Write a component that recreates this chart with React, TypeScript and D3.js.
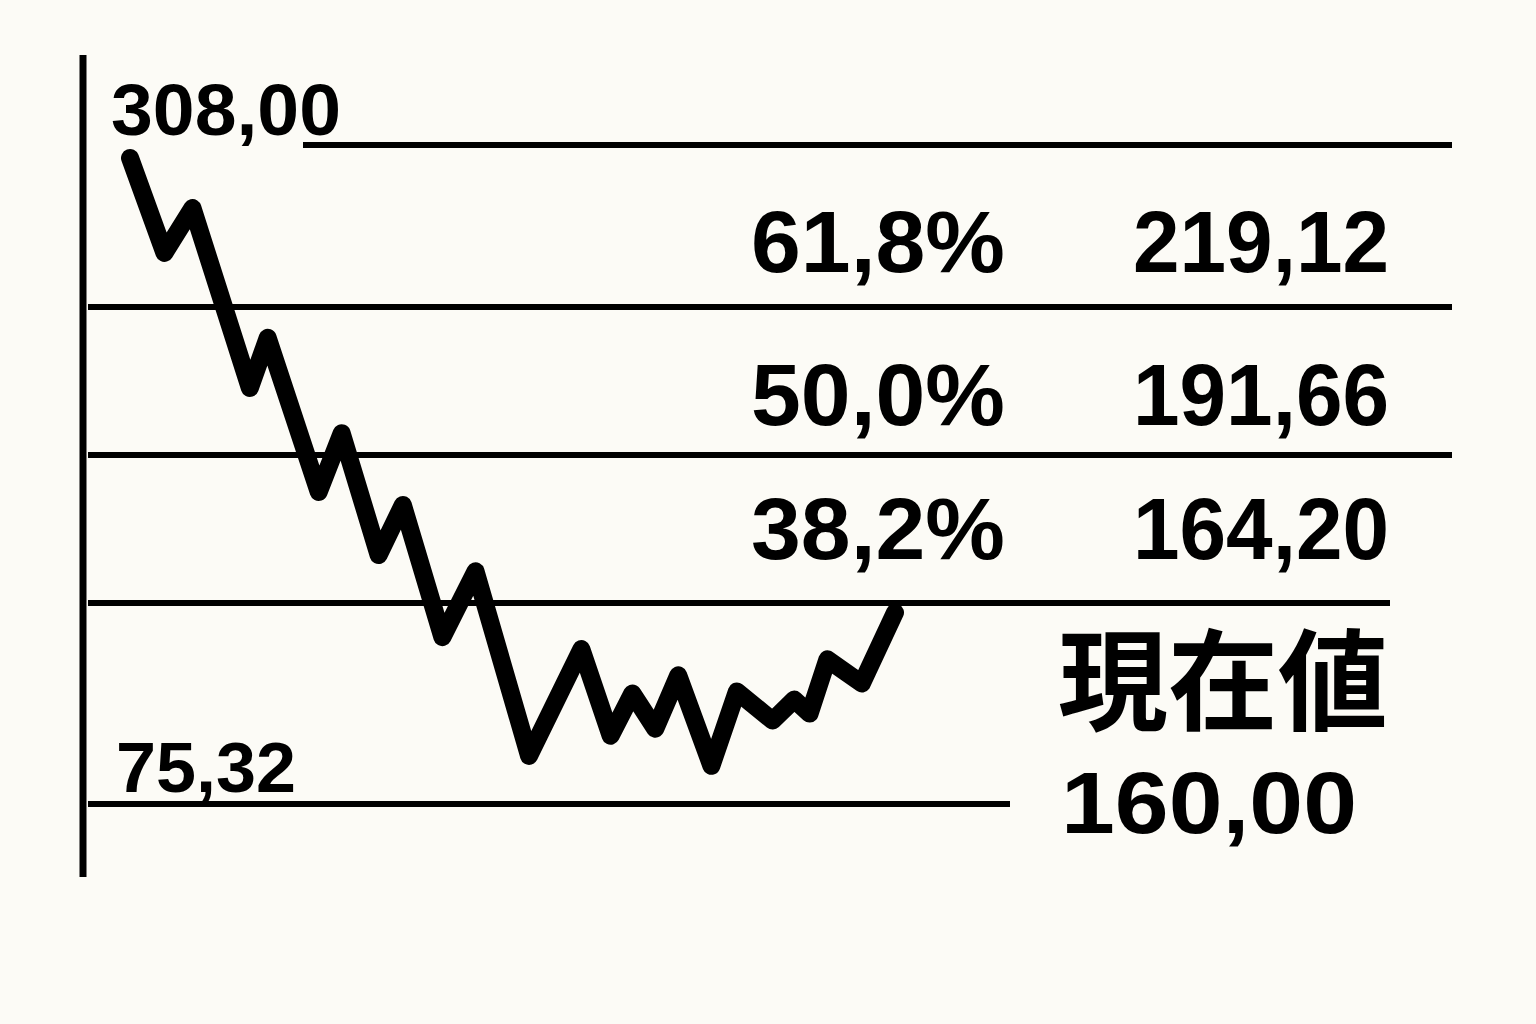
import * as d3 from "d3";
import React from "react";

// price path (x = trading day index, y = price)
const days = [0, 2.7, 4.9, 9.4, 10.8, 14.8, 16.6, 19.5, 21.4, 24.5, 27.1, 31.3, 35.4, 37.7, 39.4, 41.2, 43.0, 45.6, 47.6, 50.4, 52.1, 53.3, 54.7, 57.4, 60];
const prices = [300.9, 248.8, 273.4, 204.1, 213.4, 184.8, 195.7, 173.1, 182.4, 149.1, 170.1, 96.6, 143.8, 105.5, 124.2, 108.6, 132.2, 92.2, 125.1, 112.2, 121.5, 115.3, 139.3, 128.6, 160.0];

// fibonacci retracement levels
const levelValues = [308.0, 219.12, 191.66, 164.2, 75.32];
const levelLabels = ["308,00", "219,12", "191,66", "164,20", "75,32"];
const ratioLabels = ["", "61,8%", "50,0%", "38,2%", ""];

const currentTitle = "現在値";
const currentLabel = "160,00";

const width = 1536;
const height = 1024;

// the drawing is not to price scale: each band has its own height
const levelY = [145, 307, 455, 603, 804];
const lineStart = [303, 88, 88, 88, 88];
const lineEnd = [1452, 1452, 1452, 1390, 1010];
const labelGap = [0, 35, 30, 44, 0];

const numFont = "'Liberation Sans', Arial, Helvetica, sans-serif";
const cjkFont = "'Noto Sans CJK JP', 'Noto Sans CJK SC', sans-serif";

const App = () => {
  const yScale = d3.scaleLinear().domain(levelValues).range(levelY);
  const xScale = d3.scaleLinear().domain([0, 60]).range([130, 895]);

  const line = d3
    .line<number>()
    .x((d, i) => xScale(days[i]))
    .y((d) => yScale(d));

  return (
    <svg
      width={width}
      height={height}
      style={{ position: "absolute", left: 0, top: 0 }}
    >
      <rect width={width} height={height} fill="#fcfbf6" />

      {/* vertical axis */}
      <line x1={83} x2={83} y1={55} y2={877} stroke="#000" strokeWidth={7} />

      {levelValues.map((v, i) => (
        <line
          key={"l" + i}
          x1={lineStart[i]}
          x2={lineEnd[i]}
          y1={yScale(v)}
          y2={yScale(v)}
          stroke="#000"
          strokeWidth={6}
        />
      ))}

      {/* end labels */}
      <text
        x={111}
        y={yScale(levelValues[0]) - 10}
        fontFamily={numFont}
        fontWeight="bold"
        fontSize={72}
        textLength={230}
        lengthAdjust="spacingAndGlyphs"
      >
        {levelLabels[0]}
      </text>
      <text
        x={116}
        y={yScale(levelValues[4]) - 12}
        fontFamily={numFont}
        fontWeight="bold"
        fontSize={70}
        textLength={180}
        lengthAdjust="spacingAndGlyphs"
      >
        {levelLabels[4]}
      </text>

      {/* retracement labels */}
      {levelValues.slice(1, 4).map((v, j) => {
        const i = j + 1;
        const y = yScale(v) - labelGap[i];
        return (
          <g key={"r" + i}>
            <text
              x={751}
              y={y}
              fontFamily={numFont}
              fontWeight="bold"
              fontSize={88}
              textLength={254}
              lengthAdjust="spacingAndGlyphs"
            >
              {ratioLabels[i]}
            </text>
            <text
              x={1389}
              y={y}
              textAnchor="end"
              fontFamily={numFont}
              fontWeight="bold"
              fontSize={88}
              textLength={256}
              lengthAdjust="spacingAndGlyphs"
            >
              {levelLabels[i]}
            </text>
          </g>
        );
      })}

      <path
        d={line(prices) || ""}
        fill="none"
        stroke="#000"
        strokeWidth={18}
        strokeLinejoin="round"
        strokeLinecap="round"
      />

      <text
        x={1058}
        y={722}
        fontFamily={cjkFont}
        fontWeight="bold"
        fontSize={110}
      >
        {currentTitle}
      </text>
      <text
        x={1061}
        y={833}
        fontFamily={numFont}
        fontWeight="bold"
        fontSize={88}
        textLength={296}
        lengthAdjust="spacingAndGlyphs"
      >
        {currentLabel}
      </text>
    </svg>
  );
};

export default App;
